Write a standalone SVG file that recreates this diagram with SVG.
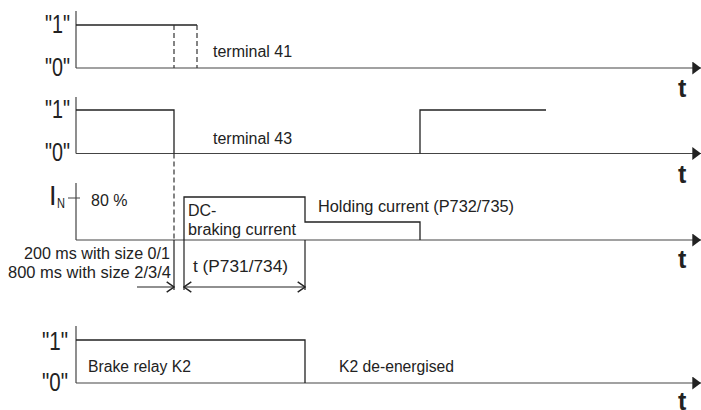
<svg xmlns="http://www.w3.org/2000/svg" width="701" height="410" viewBox="0 0 701 410">
<style>
.ax{stroke:#444;stroke-width:1.2;fill:none}
.sig{stroke:#222;stroke-width:1.3;fill:none}
.dash{stroke:#333;stroke-width:1.2;stroke-dasharray:5 3;fill:none}
.dim{stroke:#222;stroke-width:1.2;fill:none}
.lbl{font-family:"Liberation Sans",Arial,sans-serif;font-size:16px;fill:#222}
.lv{font-family:"Liberation Sans",Arial,sans-serif;font-size:25px;fill:#222;text-anchor:end}
.t{font-family:"Liberation Sans",Arial,sans-serif;font-size:25px;font-weight:bold;fill:#222}
</style>
<defs>
<marker id="tri" markerUnits="userSpaceOnUse" markerWidth="9" markerHeight="13" refX="8" refY="6" orient="auto" viewBox="0 0 8 12"><path d="M0,0 L8,6 L0,12 Z" fill="#222"/></marker>
<marker id="chev" markerUnits="userSpaceOnUse" markerWidth="9" markerHeight="12" refX="7" refY="5" orient="auto-start-reverse" viewBox="0 0 8 10"><path d="M0.5,0.5 L7,5 L0.5,9.5" fill="none" stroke="#222" stroke-width="1.3"/></marker>
</defs>

<g id="panel-terminal41">
<path class="ax" d="M76,11 V68"/>
<path class="ax" d="M76,68 H701" marker-end="url(#tri)"/>
<path class="sig" d="M76,25 H197"/>
<path class="dash" d="M174,25 V68 M197,25 V68"/>
<text class="lv" x="70" y="33" textLength="25" lengthAdjust="spacingAndGlyphs">"1"</text>
<text class="lv" x="70" y="76" textLength="25" lengthAdjust="spacingAndGlyphs">"0"</text>
<text class="lbl" x="213" y="57">terminal 41</text>
<text class="t" x="678" y="97">t</text>
</g>

<g id="panel-terminal43">
<path class="ax" d="M76,97 V153.5"/>
<path class="ax" d="M76,153.5 H701" marker-end="url(#tri)"/>
<path class="sig" d="M76,110 H174 V153.5 M420,153.5 V110 H546"/>
<text class="lv" x="70" y="118" textLength="25" lengthAdjust="spacingAndGlyphs">"1"</text>
<text class="lv" x="70" y="161" textLength="25" lengthAdjust="spacingAndGlyphs">"0"</text>
<text class="lbl" x="213" y="144">terminal 43</text>
<text class="t" x="678" y="183">t</text>
</g>

<g id="panel-current">
<path class="ax" d="M76,183 V240 M68,198 H80"/>
<path class="ax" d="M76,240 H701" marker-end="url(#tri)"/>
<path class="sig" d="M184,240 V197 H305 V222 H420 V240"/>
<text class="lbl" x="49" y="205" style="font-size:27px">I</text>
<text class="lbl" x="57" y="208" style="font-size:15px" textLength="8" lengthAdjust="spacingAndGlyphs">N</text>
<text class="lbl" x="91" y="206">80 %</text>
<text class="lbl" x="188" y="216">DC-</text>
<text class="lbl" x="188" y="235" textLength="108" lengthAdjust="spacingAndGlyphs">braking current</text>
<text class="lbl" x="318" y="212" textLength="196" lengthAdjust="spacingAndGlyphs">Holding current (P732/735)</text>
<text class="lbl" x="170" y="259" text-anchor="end" textLength="146" lengthAdjust="spacingAndGlyphs">200 ms with size 0/1</text>
<text class="lbl" x="171" y="278" text-anchor="end" textLength="163" lengthAdjust="spacingAndGlyphs">800 ms with size 2/3/4</text>
<text class="lbl" x="193" y="272" textLength="95" lengthAdjust="spacingAndGlyphs">t (P731/734)</text>
<text class="t" x="678" y="268">t</text>
</g>

<g id="panel-brake-relay">
<path class="ax" d="M76,326 V383"/>
<path class="ax" d="M76,383 H701" marker-end="url(#tri)"/>
<path class="sig" d="M76,340 H305 V383"/>
<text class="lv" x="68" y="350" textLength="26" lengthAdjust="spacingAndGlyphs">"1"</text>
<text class="lv" x="68" y="391" textLength="26" lengthAdjust="spacingAndGlyphs">"0"</text>
<text class="lbl" x="88" y="372" textLength="103" lengthAdjust="spacingAndGlyphs">Brake relay K2</text>
<text class="lbl" x="339" y="372" textLength="115" lengthAdjust="spacingAndGlyphs">K2 de-energised</text>
<text class="t" x="678" y="410">t</text>
</g>

<g id="connectors">
<path class="dash" d="M174,153.5 V240"/>
<path class="dim" d="M174,240 V290 M184,240 V290 M305,240 V290"/>
<path class="dim" d="M137,287 H174" marker-end="url(#chev)"/>
<path class="dim" d="M184,287 H305" marker-start="url(#chev)" marker-end="url(#chev)"/>
</g>
</svg>
